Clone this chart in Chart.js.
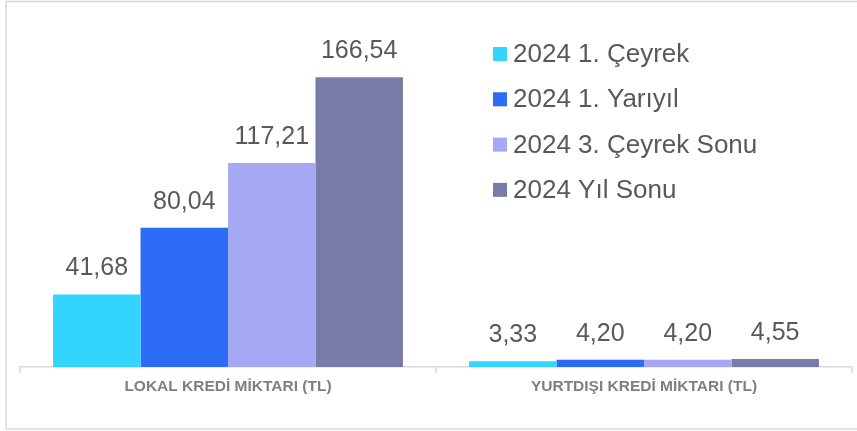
<!DOCTYPE html>
<html lang="tr">
<head>
    <meta charset="UTF-8">
    <title>Kredi Miktarı</title>
    <script src="https://cdn.jsdelivr.net/npm/chart.js@4.4.1/dist/chart.umd.min.js"></script>
    <style>
        html, body { margin: 0; padding: 0; background: #fff; }
        #wrap { width: 857px; height: 431px; position: relative; }
    </style>
</head>
<body>
<div id="wrap"><canvas id="myChart" width="857" height="431"></canvas></div>
<script>
const categories = ['LOKAL KREDİ MİKTARI (TL)', 'YURTDIŞI KREDİ MİKTARI (TL)'];
const seriesNames = ['2024 1. Çeyrek', '2024 1. Yarıyıl', '2024 3. Çeyrek Sonu', '2024 Yıl Sonu'];
const q1 = [41.68, 3.33];
const h1 = [80.04, 4.20];
const q3 = [117.21, 4.20];
const ye = [166.54, 4.55];
const colors = ['#33D5FF', '#2D6CF6', '#A5A9F3', '#787CA9'];

const FONT = '"Liberation Sans", Arial, sans-serif';

function fmt(v) {
    return v.toFixed(2).replace('.', ',');
}

// frame around the whole chart
const framePlugin = {
    id: 'frame',
    beforeDraw(chart) {
        const ctx = chart.ctx;
        ctx.save();
        ctx.strokeStyle = '#d9d9d9';
        ctx.lineWidth = 1.5;
        ctx.strokeRect(6, 1.5, 860, 427.5);
        ctx.restore();
    }
};

// value labels above bars
const valuePlugin = {
    id: 'values',
    afterDatasetsDraw(chart) {
        const ctx = chart.ctx;
        ctx.save();
        ctx.font = '25px ' + FONT;
        ctx.fillStyle = '#595959';
        ctx.textAlign = 'center';
        ctx.textBaseline = 'alphabetic';
        chart.data.datasets.forEach((ds, i) => {
            chart.getDatasetMeta(i).data.forEach((bar, j) => {
                ctx.fillText(fmt(ds.data[j]), bar.x, bar.y - 19);
            });
        });
        ctx.restore();
    }
};

// legend drawn inside the plot, top right
const legendPlugin = {
    id: 'sideLegend',
    afterDraw(chart) {
        const ctx = chart.ctx;
        ctx.save();
        ctx.font = '26px ' + FONT;
        ctx.textBaseline = 'middle';
        chart.data.datasets.forEach((ds, i) => {
            const y = 54 + i * 45.3;
            ctx.fillStyle = ds.backgroundColor;
            ctx.fillRect(493, y - 7, 14, 14);
            ctx.fillStyle = '#595959';
            ctx.fillText(ds.label, 513, y + 1);
        });
        ctx.restore();
    }
};

const series = [q1, h1, q3, ye];

new Chart(document.getElementById('myChart'), {
    type: 'bar',
    data: {
        labels: categories,
        datasets: series.map((d, i) => ({
            label: seriesNames[i],
            data: d,
            backgroundColor: colors[i],
            borderWidth: 0,
            categoryPercentage: 0.841,
            barPercentage: 1
        }))
    },
    options: {
        responsive: false,
        animation: false,
        layout: { padding: { left: 20, right: 5, top: 19, bottom: 0 } },
        plugins: {
            legend: { display: false },
            tooltip: { enabled: false }
        },
        scales: {
            x: {
                offset: true,
                border: { display: true, color: '#d9d9d9', width: 1.5 },
                grid: {
                    display: true,
                    offset: true,
                    drawOnChartArea: false,
                    drawTicks: true,
                    tickLength: 6,
                    color: '#d9d9d9',
                    lineWidth: 1.5
                },
                ticks: {
                    color: '#7f7f7f',
                    padding: 4,
                    font: { family: FONT, size: 15.5, weight: 'bold' }
                },
                afterFit(scale) { scale.height = 64; }
            },
            y: {
                display: false,
                min: 0,
                max: 200
            }
        }
    },
    plugins: [framePlugin, valuePlugin, legendPlugin]
});
</script>
</body>
</html>
